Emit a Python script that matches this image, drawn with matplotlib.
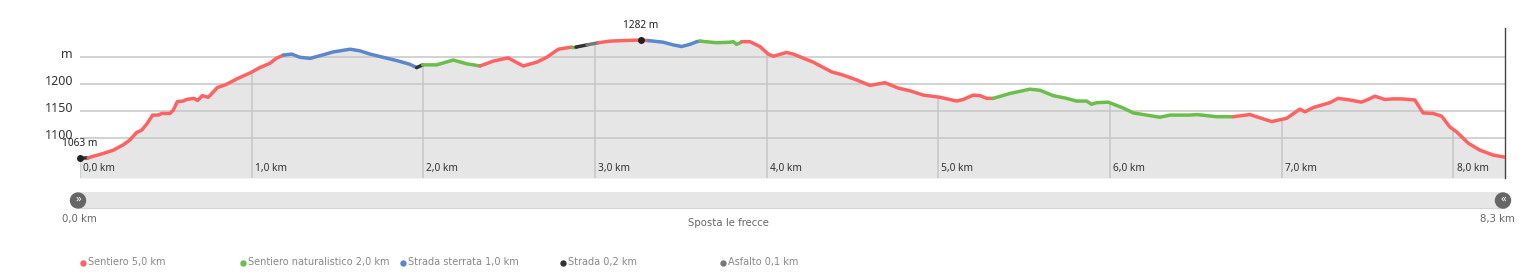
import numpy as np
import matplotlib
matplotlib.use("Agg")
import matplotlib.pyplot as plt
from matplotlib.patches import Rectangle, Circle

# --------------------------------------------------------------------------- #
# Elevation profile (distance km, elevation m)
# --------------------------------------------------------------------------- #
dist_km = [0.000, 0.048, 0.136, 0.194, 0.252, 0.291, 0.330, 0.359, 0.388, 0.423,
           0.456, 0.476, 0.524, 0.543, 0.567, 0.602, 0.621, 0.664, 0.685, 0.712,
           0.747, 0.800, 0.854, 0.913, 0.990, 1.048, 1.107, 1.142, 1.184, 1.233,
           1.281, 1.340, 1.398, 1.475, 1.573, 1.631, 1.689, 1.766, 1.845, 1.922,
           1.961, 1.996, 2.077, 2.174, 2.252, 2.330, 2.407, 2.494, 2.534, 2.582,
           2.660, 2.718, 2.786, 2.864, 2.889, 2.953, 3.019, 3.087, 3.164, 3.267,
           3.310, 3.397, 3.455, 3.504, 3.553, 3.592, 3.611, 3.708, 3.786, 3.805,
           3.824, 3.840, 3.854, 3.902, 3.960, 4.009, 4.038, 4.116, 4.154, 4.271,
           4.378, 4.446, 4.524, 4.601, 4.689, 4.766, 4.834, 4.912, 5.009, 5.106,
           5.144, 5.203, 5.242, 5.281, 5.319, 5.416, 5.533, 5.591, 5.669, 5.746,
           5.805, 5.863, 5.892, 5.921, 5.989, 6.077, 6.135, 6.213, 6.290, 6.349,
           6.465, 6.504, 6.620, 6.717, 6.814, 6.941, 7.028, 7.105, 7.135, 7.183,
           7.280, 7.328, 7.396, 7.464, 7.503, 7.542, 7.600, 7.649, 7.698, 7.775,
           7.823, 7.882, 7.931, 7.979, 8.018, 8.086, 8.154, 8.231, 8.300]
elev_m = [1063, 1064, 1072, 1078, 1088, 1097, 1111, 1115, 1126, 1143,
          1143, 1146, 1146, 1152, 1168, 1169, 1172, 1174, 1170, 1179,
          1176, 1194, 1200, 1210, 1221, 1231, 1239, 1248, 1254, 1256,
          1250, 1248, 1253, 1260, 1265, 1262, 1256, 1250, 1244, 1237,
          1231, 1236, 1236, 1245, 1238, 1234, 1243, 1249, 1242, 1234,
          1241, 1250, 1265, 1269, 1269, 1273, 1277, 1280, 1281, 1282,
          1281, 1278, 1273, 1270, 1274, 1279, 1280, 1277, 1278, 1279,
          1274, 1276, 1279, 1279, 1270, 1256, 1252, 1259, 1256, 1241,
          1223, 1217, 1208, 1198, 1203, 1193, 1188, 1180, 1176, 1169,
          1172, 1180, 1179, 1174, 1174, 1183, 1191, 1189, 1179, 1174,
          1169, 1169, 1163, 1166, 1167, 1156, 1147, 1143, 1139, 1143,
          1143, 1144, 1140, 1140, 1144, 1131, 1137, 1154, 1149, 1157,
          1166, 1174, 1171, 1167, 1172, 1178, 1172, 1173, 1173, 1171,
          1147, 1146, 1141, 1121, 1112, 1091, 1078, 1069, 1065]

# surface type of each stretch, and where it ends (km)
seg_type = ["Strada", "Sentiero", "Strada sterrata", "Strada", "Sentiero naturalistico",
            "Sentiero", "Sentiero naturalistico", "Strada", "Asfalto", "Sentiero",
            "Strada sterrata", "Sentiero naturalistico", "Sentiero",
            "Sentiero naturalistico", "Sentiero"]
seg_end = [0.048, 1.184, 1.961, 1.996, 2.330, 2.864, 2.889, 2.953, 3.019, 3.310,
           3.611, 3.854, 5.319, 6.717, 8.300]

# legend: surface names, totals shown (km), colours
surf_names = ["Sentiero", "Sentiero naturalistico", "Strada sterrata", "Strada", "Asfalto"]
surf_km = [5.0, 2.0, 1.0, 0.2, 0.1]
surf_col = ["#ff6262", "#6abf4b", "#5b88cc", "#333333", "#777777"]
col_of = dict(zip(surf_names, surf_col))

ytick_vals = [1100, 1150, 1200, 1250]
ytick_labs = ["1100", "1150", "1200", "m"]
km_ticks = list(range(9))

d = np.array(dist_km); e = np.array(elev_m)
total = d[-1]

def km_fmt(v):
    return f"{v:.1f}".replace(".", ",") + " km"

# --------------------------------------------------------------------------- #
W, H = 1529, 279
fig = plt.figure(figsize=(W/100, H/100), dpi=100)
plt.rcParams["font.family"] = ["Noto Sans", "DejaVu Sans"]

ax = fig.add_axes([80/W, (H-178)/H, (1505-80)/W, (178-28)/H])
y0, y1 = 1026.5, 1304.3
ax.set_xlim(0, total); ax.set_ylim(y0, y1)
ax.set_xticks([]); ax.set_yticks([])
for s in ("top", "left", "bottom"):
    ax.spines[s].set_visible(False)
ax.spines["right"].set_color("#444444"); ax.spines["right"].set_linewidth(1.0)

ax.fill_between(d, e, y0, color="#e6e6e6", lw=0, zorder=1)
for v in ytick_vals:
    ax.axhline(v, color="#c6c6c6", lw=1.1, zorder=2)
for k in km_ticks:
    ax.vlines(k, y0, np.interp(k, d, e), color="#c6c6c6", lw=1.1, zorder=2)

start = 0.0
for typ, end in zip(seg_type, seg_end):
    m = (d >= start - 1e-9) & (d <= end + 1e-9)
    ax.plot(d[m], e[m], color=col_of[typ], lw=2.5, solid_capstyle="round",
            solid_joinstyle="round", zorder=4)
    start = end

for k in km_ticks:
    ax.annotate(km_fmt(k), xy=(k, 0), xycoords=("data", "axes fraction"),
                xytext=(2.2, 7.2), textcoords="offset points", ha="left",
                va="center", fontsize=7.3, color="#333333")
for v, lab in zip(ytick_vals, ytick_labs):
    ax.annotate(lab, xy=(0, v), xycoords=("axes fraction", "data"),
                xytext=(-5, 1.8), textcoords="offset points", ha="right",
                va="center", fontsize=9, color="#333333")

# min / max markers
for i in (int(np.argmin(e)), int(np.argmax(e))):
    ax.plot(d[i], e[i], "o", color="#222222", ms=4, zorder=6, clip_on=False)
    ax.annotate(f"{e[i]} m", xy=(d[i], e[i]), xytext=(0, 10.3),
                textcoords="offset points", ha="center", va="center",
                fontsize=7.3, color="#222222")

# --------------------------------------------------------------------------- #
# slider + legend drawn in pixel space
# --------------------------------------------------------------------------- #
ui = fig.add_axes([0, 0, 1, 1], zorder=-1)
ui.set_xlim(0, W); ui.set_ylim(H, 0); ui.axis("off")
small = dict(family=["DejaVu Sans"], color="#666666")

ui.add_patch(Rectangle((80, 192), 1425, 16, color="#e6e6e6", lw=0))
ui.plot([80, 1505], [208, 208], color="#d6d6d6", lw=0.8)
for x, g in ((78, "\u00bb"), (1503, "\u00ab")):
    ui.add_patch(Circle((x, 200.5), 7.5, color="#666666", zorder=3))
    ui.text(x, 199.5, g, ha="center", va="center", color="white",
            fontsize=8, fontweight="bold", zorder=4)
ui.text(79, 219, km_fmt(0), ha="center", va="center", fontsize=7.3, **small)
ui.text(1497, 219, km_fmt(total), ha="center", va="center", fontsize=7.3, **small)
ui.text(728, 223, "Sposta le frecce", ha="center", va="center", fontsize=7.3, **small)

for i, (nm, km, c) in enumerate(zip(surf_names, surf_km, surf_col)):
    x = 83 + 160*i
    ui.plot(x, 262.5, "o", color=c, ms=3.6)
    ui.text(x + 5, 262, f"{nm} {km_fmt(km)}", ha="left", va="center",
            fontsize=7, **{**small, "color": "#888888"})

fig.savefig("out.png", dpi=100)
